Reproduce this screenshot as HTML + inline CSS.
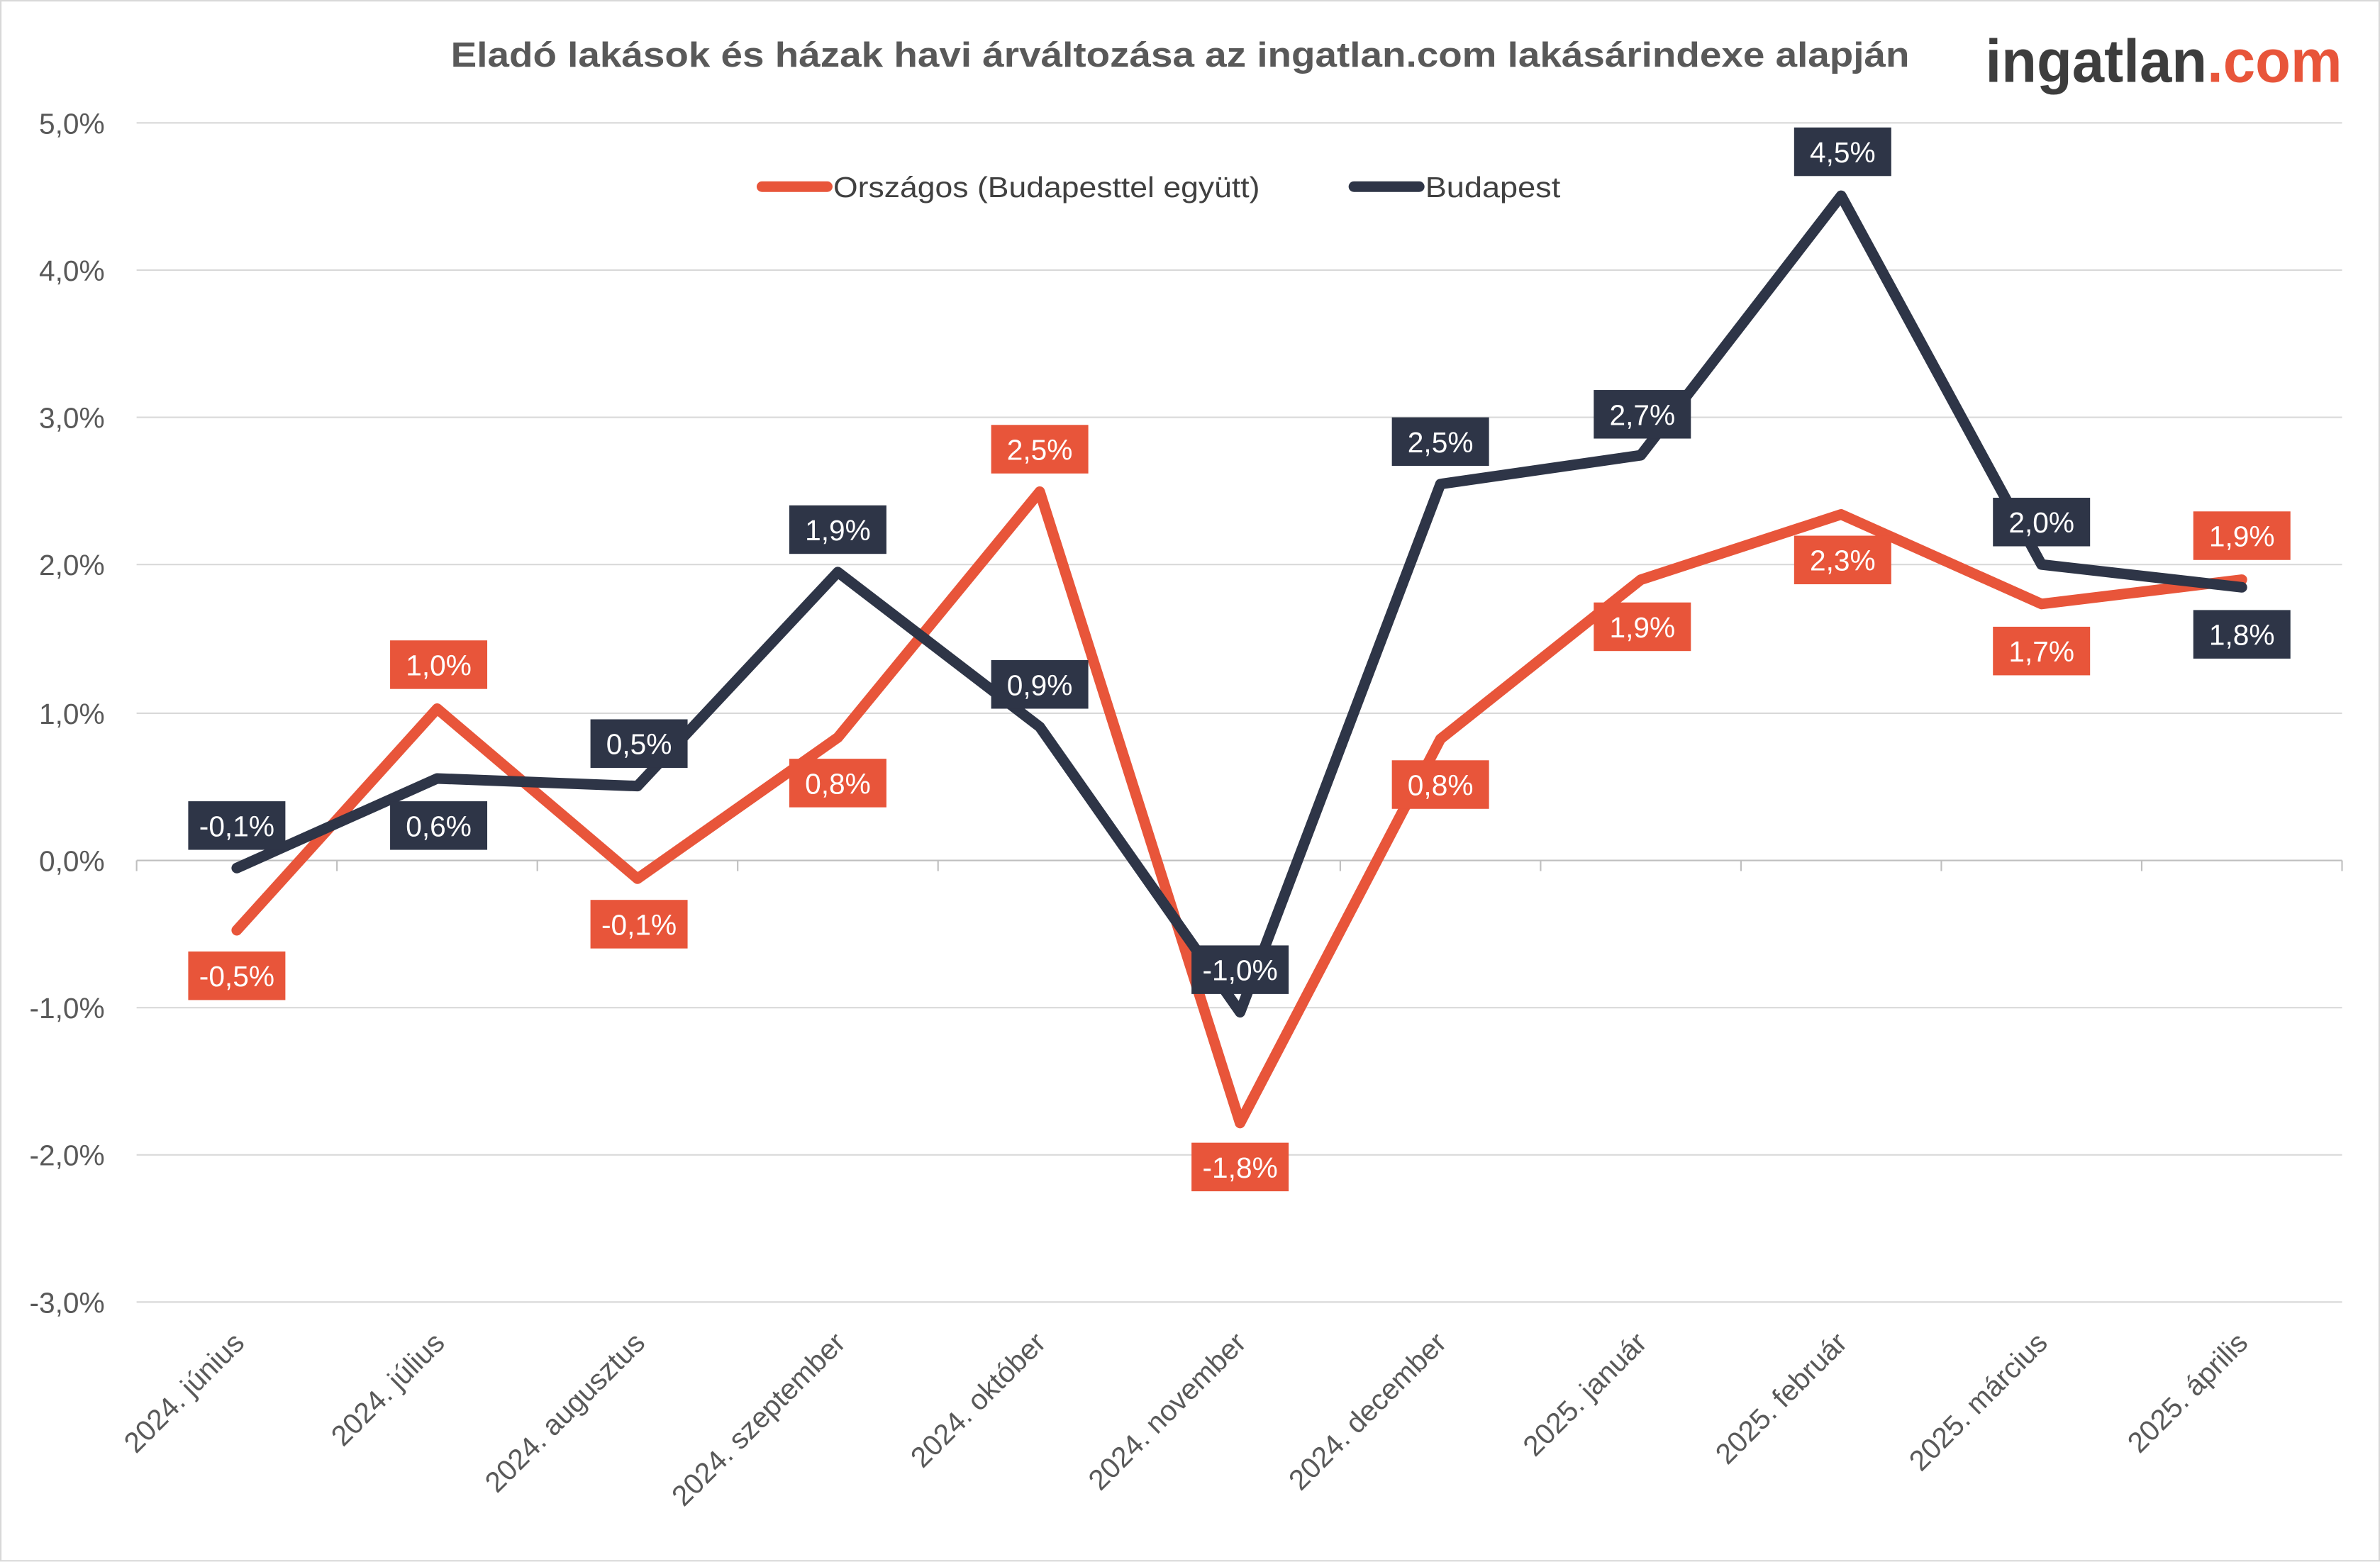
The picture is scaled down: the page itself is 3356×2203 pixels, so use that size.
<!DOCTYPE html>
<html><head><meta charset="utf-8"><style>html,body{margin:0;padding:0;background:#fff}svg{display:block}</style></head>
<body>
<svg width="3356" height="2203" viewBox="0 0 1568 1029.3" xmlns="http://www.w3.org/2000/svg" font-family="Liberation Sans, DejaVu Sans, sans-serif">
<rect x="0.5" y="0.5" width="1567" height="1028" fill="#fff" stroke="#d9d9d9"/>
<text x="297" y="44" font-size="23" font-weight="bold" fill="#595959" textLength="961" lengthAdjust="spacingAndGlyphs">Eladó lakások és házak havi árváltozása az ingatlan.com lakásárindexe alapján</text>
<text x="1308" y="54" font-size="40" font-weight="bold" fill="#3d3d3d" textLength="235" lengthAdjust="spacingAndGlyphs">ingatlan<tspan fill="#E8553A">.com</tspan></text>
<g stroke="#d9d9d9" stroke-width="1">
<line x1="90" x2="1543" y1="81" y2="81"/><line x1="90" x2="1543" y1="178" y2="178"/><line x1="90" x2="1543" y1="275" y2="275"/><line x1="90" x2="1543" y1="372" y2="372"/><line x1="90" x2="1543" y1="470" y2="470"/><line x1="90" x2="1543" y1="664" y2="664"/><line x1="90" x2="1543" y1="761" y2="761"/><line x1="90" x2="1543" y1="858" y2="858"/>
<line x1="90" x2="1543" y1="567" y2="567" stroke="#bfbfbf"/>
</g>
<g stroke="#bfbfbf"><line x1="90" x2="90" y1="567" y2="574"/><line x1="222" x2="222" y1="567" y2="574"/><line x1="354" x2="354" y1="567" y2="574"/><line x1="486" x2="486" y1="567" y2="574"/><line x1="618" x2="618" y1="567" y2="574"/><line x1="750" x2="750" y1="567" y2="574"/><line x1="883" x2="883" y1="567" y2="574"/><line x1="1015" x2="1015" y1="567" y2="574"/><line x1="1147" x2="1147" y1="567" y2="574"/><line x1="1279" x2="1279" y1="567" y2="574"/><line x1="1411" x2="1411" y1="567" y2="574"/><line x1="1543" x2="1543" y1="567" y2="574"/></g>
<g font-size="19" fill="#595959" text-anchor="end">
<text x="69" y="88">5,0%</text><text x="69" y="185">4,0%</text><text x="69" y="282">3,0%</text><text x="69" y="379">2,0%</text><text x="69" y="477">1,0%</text><text x="69" y="574">0,0%</text><text x="69" y="671">-1,0%</text><text x="69" y="768">-2,0%</text><text x="69" y="865">-3,0%</text>
</g>
<g font-size="19" fill="#595959" text-anchor="end">
<text transform="translate(162,886) rotate(-45)">2024. június</text>
<text transform="translate(294,886) rotate(-45)">2024. július</text>
<text transform="translate(426,886) rotate(-45)">2024. augusztus</text>
<text transform="translate(558,886) rotate(-45)">2024. szeptember</text>
<text transform="translate(690,886) rotate(-45)">2024. október</text>
<text transform="translate(822,886) rotate(-45)">2024. november</text>
<text transform="translate(954,886) rotate(-45)">2024. december</text>
<text transform="translate(1086,886) rotate(-45)">2025. január</text>
<text transform="translate(1218,886) rotate(-45)">2025. február</text>
<text transform="translate(1350,886) rotate(-45)">2025. március</text>
<text transform="translate(1482,886) rotate(-45)">2025. április</text>
</g>
<g font-size="19" fill="#404040">
<line x1="502" x2="545" y1="123" y2="123" stroke="#E8553A" stroke-width="7" stroke-linecap="round"/>
<text x="549" y="130" textLength="281" lengthAdjust="spacingAndGlyphs">Országos (Budapesttel együtt)</text>
<line x1="892" x2="935" y1="123" y2="123" stroke="#2E3547" stroke-width="7" stroke-linecap="round"/>
<text x="939" y="130" textLength="89" lengthAdjust="spacingAndGlyphs">Budapest</text>
</g>
<polyline fill="none" stroke="#E8553A" stroke-width="7" stroke-linejoin="round" stroke-linecap="round" points="156,613 288,467 420,579 552,486 685,324 817,740 949,487 1081,382 1213,339 1345,398 1477,382"/>
<polyline fill="none" stroke="#2E3547" stroke-width="7" stroke-linejoin="round" stroke-linecap="round" points="156,572 288,513 420,518 552,377 685,479 817,667 949,319 1081,300 1213,129 1345,372 1477,387"/>
<g font-size="19" fill="#fff" text-anchor="middle">
<g fill="#E8553A">
<rect x="124" y="627" width="64" height="32"/><rect x="257" y="422" width="64" height="32"/><rect x="389" y="593" width="64" height="32"/><rect x="520" y="500" width="64" height="32"/><rect x="653" y="280" width="64" height="32"/><rect x="785" y="753" width="64" height="32"/><rect x="917" y="501" width="64" height="32"/><rect x="1050" y="397" width="64" height="32"/><rect x="1182" y="353" width="64" height="32"/><rect x="1313" y="413" width="64" height="32"/><rect x="1445" y="337" width="64" height="32"/>
</g>
<g fill="#2E3547">
<rect x="124" y="528" width="64" height="32"/><rect x="257" y="528" width="64" height="32"/><rect x="389" y="474" width="64" height="32"/><rect x="520" y="333" width="64" height="32"/><rect x="653" y="435" width="64" height="32"/><rect x="785" y="623" width="64" height="32"/><rect x="917" y="275" width="64" height="32"/><rect x="1050" y="257" width="64" height="32"/><rect x="1182" y="84" width="64" height="32"/><rect x="1313" y="328" width="64" height="32"/><rect x="1445" y="402" width="64" height="32"/>
</g>
<text x="156" y="650">-0,5%</text><text x="289" y="445">1,0%</text><text x="421" y="616">-0,1%</text><text x="552" y="523">0,8%</text><text x="685" y="303">2,5%</text><text x="817" y="776">-1,8%</text><text x="949" y="524">0,8%</text><text x="1082" y="420">1,9%</text><text x="1214" y="376">2,3%</text><text x="1345" y="436">1,7%</text><text x="1477" y="360">1,9%</text>
<text x="156" y="551">-0,1%</text><text x="289" y="551">0,6%</text><text x="421" y="497">0,5%</text><text x="552" y="356">1,9%</text><text x="685" y="458">0,9%</text><text x="817" y="646">-1,0%</text><text x="949" y="298">2,5%</text><text x="1082" y="280">2,7%</text><text x="1214" y="107">4,5%</text><text x="1345" y="351">2,0%</text><text x="1477" y="425">1,8%</text>
</g>
</svg>
</body></html>
